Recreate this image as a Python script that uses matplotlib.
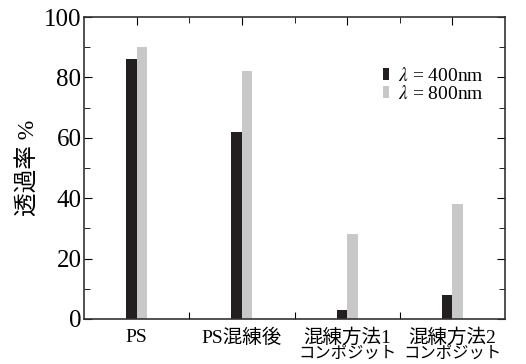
import matplotlib
matplotlib.use("Agg")
import matplotlib.pyplot as plt
import matplotlib.transforms as mtransforms
import numpy as np

categories = ["PS", "PS混練後", "混練方法1", "混練方法2"]
subtitles = ["", "", "コンポジット", "コンポジット"]
t400 = [86, 62, 3, 8]
t800 = [90, 82, 28, 38]
legend_labels = [r"$\lambda$ = 400nm", r"$\lambda$ = 800nm"]
ylabel = "透過率 %"

plt.rcParams["font.family"] = ["Liberation Serif", "Noto Sans CJK JP"]
plt.rcParams["mathtext.fontset"] = "stix"

fig = plt.figure(figsize=(5.26, 3.64), dpi=100)
ax = fig.add_axes([0.16, 0.124, 0.80, 0.829])

x = np.arange(len(categories))
w = 0.1
ax.bar(x - w / 2, t400, w, color="#231f20", label=legend_labels[0])
ax.bar(x + w / 2, t800, w, color="#c8c8c8", label=legend_labels[1])

ax.set_xlim(-0.5, 3.5)
ax.set_ylim(0, 100)
ax.set_yticks([0, 20, 40, 60, 80, 100])
ax.set_yticks(np.arange(10, 100, 20), minor=True)
ax.set_xticks(x)
ax.set_xticklabels(categories, fontsize=14)
ax.tick_params(axis="y", which="both", direction="in", left=True, right=True,
               labelsize=18, pad=2)
ax.tick_params(axis="y", which="major", length=6)
ax.tick_params(axis="y", which="minor", length=4)
ax.tick_params(axis="x", which="major", length=0, pad=7)

# second line of the category labels, a little smaller
trans = mtransforms.blended_transform_factory(ax.transData, ax.transAxes)
for xi, sub in zip(x, subtitles):
    if sub:
        ax.text(xi, -0.088, sub, transform=trans, ha="center", va="top",
                fontsize=11.8)

# top ticks at category centres and midpoints; bottom ticks only at midpoints
sec_top = ax.secondary_xaxis("top")
sec_top.set_xticks(x)
sec_top.set_xticks(x[:-1] + 0.5, minor=True)
sec_top.tick_params(which="both", direction="in", labeltop=False)
sec_top.tick_params(which="major", length=6)
sec_top.tick_params(which="minor", length=4)
sec_bot = ax.secondary_xaxis("bottom")
sec_bot.set_xticks(x[:-1] + 0.5)
sec_bot.tick_params(direction="in", length=5, labelbottom=False)
sec_bot.spines["bottom"].set_visible(False)
sec_top.spines["top"].set_visible(False)

for s in ax.spines.values():
    s.set_color("#333333")
    s.set_linewidth(1.2)

ax.set_ylabel(ylabel, fontsize=17, labelpad=4)

ax.legend(loc="upper right", bbox_to_anchor=(0.969, 0.86), frameon=False,
          fontsize=14, handlelength=0.3, handleheight=0.6, handletextpad=0.5,
          labelspacing=0.0, borderaxespad=0)

fig.savefig("out.png", dpi=100)
